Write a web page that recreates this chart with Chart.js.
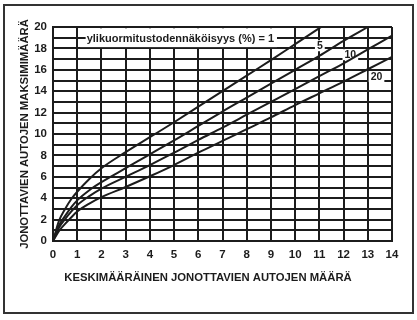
<!DOCTYPE html>
<html>
<head>
<meta charset="utf-8">
<style>
  html, body { margin: 0; padding: 0; background: #fff; }
  #wrap { width: 417px; height: 320px; }
</style>
</head>
<body>
<div id="wrap"><canvas id="chart" width="417" height="320"></canvas></div>
<script src="https://cdn.jsdelivr.net/npm/chart.js@4.4.1/dist/chart.umd.min.js"></script>
<script>
// mean queue length (x) and max queue length for each overload probability
const meanQueue = [0, 0.25, 0.5, 0.75, 1, 1.5, 2, 3, 4, 5, 6, 7, 8, 9, 10, 11, 12, 13, 14];
const overload1 = [0, 1.9, 3.0, 3.9, 4.6, 5.8, 6.8, 8.3, 9.7, 11.1, 12.55, 14.0, 15.45, 16.9, 18.4, 19.9, 21.4, null, null];
const overload5 = [0, 1.45, 2.35, 3.15, 3.8, 4.75, 5.5, 6.8, 8.1, 9.4, 10.75, 12.1, 13.4, 14.7, 16.0, 17.3, 18.7, 20.0, 21.3];
const overload10 = [0, 1.25, 2.05, 2.75, 3.35, 4.2, 4.9, 6.0, 7.1, 8.25, 9.45, 10.6, 11.8, 13.0, 14.2, 15.4, 16.6, 17.9, 19.2];
const overload20 = [0, 0.95, 1.6, 2.2, 2.75, 3.5, 4.1, 5.05, 6.05, 7.1, 8.25, 9.35, 10.45, 11.55, 12.7, 13.8, 14.9, 16.05, 17.2];

const xRange = [0, 14];
const yRange = [0, 20];
const yLabelEvery = 2;

const ink = "#1c1c1c";
const tickFont = { family: "'Liberation Sans', Arial, sans-serif", size: 11.5, weight: "bold" };
const titleFont = "bold 11.3px 'Liberation Sans', Arial, sans-serif";

const xTitle = "KESKIMÄÄRÄINEN JONOTTAVIEN AUTOJEN MÄÄRÄ";
const yTitle = "JONOTTAVIEN AUTOJEN MAKSIMIMÄÄRÄ";
const legendText = "ylikuormitustodennäköisyys (%) = 1";
const curveLabels = [
  { text: "5", x: 11.02, y: 18.25 },
  { text: "10", x: 12.28, y: 17.41 },
  { text: "20", x: 13.36, y: 15.36 },
];

function toPoints(values) {
  return meanQueue.map((x, i) => ({ x, y: values[i] }));
}

function curve(values) {
  return {
    data: toPoints(values),
    borderColor: ink,
    borderWidth: 2,
    pointRadius: 0,
    fill: false,
    cubicInterpolationMode: "monotone",
  };
}

const labelsPlugin = {
  id: "curveLabels",
  beforeDatasetsDraw(chart) {
    const { ctx, scales } = chart;
    const x = scales.x;
    const y = scales.y;

    ctx.save();
    // white patch behind the legend text
    const left = x.getPixelForValue(1.12);
    const right = x.getPixelForValue(9.25);
    ctx.fillStyle = "#fff";
    ctx.fillRect(left, y.getPixelForValue(19.88), right - left, y.getPixelForValue(18.12) - y.getPixelForValue(19.88));
    const textX = x.getPixelForValue(1.39);
    ctx.strokeStyle = ink;
    ctx.lineWidth = 2;
    ctx.beginPath();
    ctx.moveTo(left - 1, Math.round(y.getPixelForValue(19)));
    ctx.lineTo(textX - 1, Math.round(y.getPixelForValue(19)));
    ctx.stroke();

    ctx.fillStyle = ink;
    ctx.font = "bold 11px 'Liberation Sans', Arial, sans-serif";
    ctx.textAlign = "left";
    ctx.textBaseline = "middle";
    ctx.fillText(legendText, textX, y.getPixelForValue(19) + 1);

    ctx.font = "bold 10.5px 'Liberation Sans', Arial, sans-serif";
    ctx.textAlign = "center";
    curveLabels.forEach((label) => {
      const px = x.getPixelForValue(label.x);
      const py = y.getPixelForValue(label.y);
      const w = ctx.measureText(label.text).width + 4;
      ctx.fillStyle = "#fff";
      ctx.fillRect(px - w / 2, py - 5.5, w, 11);
      ctx.fillStyle = ink;
      ctx.fillText(label.text, px, py + 0.5);
    });
    ctx.restore();
  },
  afterDraw(chart) {
    const { ctx } = chart;
    ctx.save();
    ctx.fillStyle = ink;
    ctx.font = titleFont;
    ctx.textAlign = "center";
    ctx.textBaseline = "middle";
    ctx.fillText(xTitle, 208, 278);

    ctx.translate(25, 134);
    ctx.rotate(-Math.PI / 2);
    ctx.fillText(yTitle, 0, 0);
    ctx.restore();

    ctx.save();
    ctx.strokeStyle = "#333";
    ctx.lineWidth = 2;
    ctx.strokeRect(4, 5, 409, 308);
    ctx.restore();
  },
};

new Chart(document.getElementById("chart"), {
  type: "line",
  plugins: [labelsPlugin],
  data: {
    datasets: [curve(overload1), curve(overload5), curve(overload10), curve(overload20)],
  },
  options: {
    responsive: false,
    animation: false,
    devicePixelRatio: 1,
    layout: { padding: { left: 0, right: 25, top: 27, bottom: 0 } },
    plugins: {
      legend: { display: false },
      tooltip: { enabled: false },
    },
    scales: {
      x: {
        type: "linear",
        min: xRange[0],
        max: xRange[1],
        afterFit: (scale) => { scale.height = 79; },
        ticks: { stepSize: 1, color: ink, font: tickFont, padding: 7 },
        grid: { color: ink, lineWidth: 2, drawTicks: false },
        border: { color: ink, width: 2 },
      },
      y: {
        type: "linear",
        min: yRange[0],
        max: yRange[1],
        afterFit: (scale) => { scale.width = 53; },
        ticks: {
          stepSize: 1,
          autoSkip: false,
          color: ink,
          font: tickFont,
          padding: 6,
          callback: (value) => (value % yLabelEvery === 0 ? value : ""),
        },
        grid: { color: ink, lineWidth: 2, drawTicks: false },
        border: { color: ink, width: 2 },
      },
    },
  },
});
</script>
</body>
</html>
